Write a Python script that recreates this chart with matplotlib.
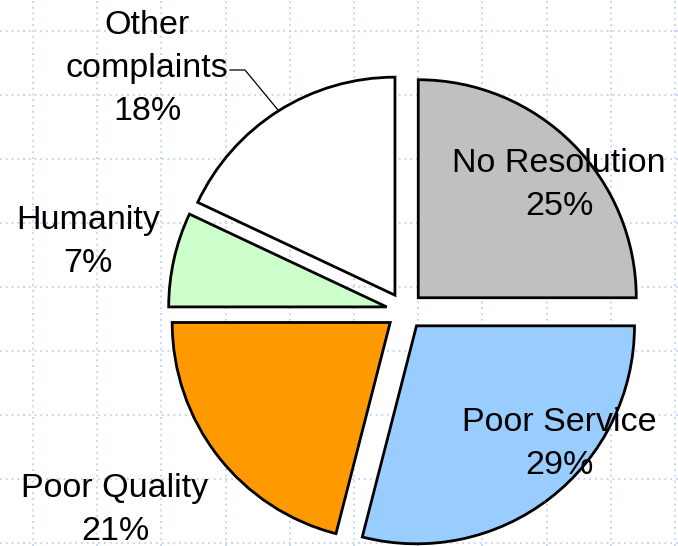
import matplotlib
matplotlib.use("Agg")
import matplotlib.pyplot as plt
import numpy as np

categories = ["No Resolution", "Poor Service", "Poor Quality", "Humanity", "Other\ncomplaints"]
values = [25, 29, 21, 7, 18]
colors = ["#C0C0C0", "#99CCFF", "#FF9900", "#CCFFCC", "#FFFFFF"]

W, H = 678, 546
fig = plt.figure(figsize=(W / 100, H / 100), dpi=100)
fig.patch.set_facecolor("white")

# background axes in pixel units, holds the dotted grid
bg = fig.add_axes([0, 0, 1, 1])
bg.set_xlim(0, W)
bg.set_ylim(H, 0)
bg.set_xticks(np.arange(33, W, 64.2))
bg.set_yticks(np.arange(31, H, 64.0))
bg.grid(True, linestyle=(0, (1, 2.2)), color="#bfd0f8", linewidth=1.3)
bg.tick_params(length=0, labelbottom=False, labelleft=False)
for s in bg.spines.values():
    s.set_visible(False)
bg.set_zorder(0)

# pie axes: 1 data unit = 218 px, pie center at pixel (405, 311)
R = 218.0
cx, cy = 405.0, 311.0
ax = fig.add_axes([0, 0, 1, 1])
ax.set_zorder(1)
ax.patch.set_alpha(0)
ax.pie(values, colors=colors, startangle=90, counterclock=False,
       explode=[0.086] * len(values), radius=1.0,
       wedgeprops=dict(edgecolor="black", linewidth=2.0))
ax.set_xlim(-cx / R, (W - cx) / R)
ax.set_ylim(-(H - cy) / R, cy / R)
ax.set_aspect("equal")
ax.axis("off")

# labels (pixel positions of label centers)
label_pos = [(559, 185), (559, 444), (115, 510), (88, 242), (147, 69)]
total = sum(values)
font = dict(family=["Liberation Sans", "DejaVu Sans"], size=24.5)
top = fig.add_axes([0, 0, 1, 1])
top.set_zorder(2)
top.patch.set_alpha(0)
top.set_xlim(0, W)
top.set_ylim(H, 0)
top.axis("off")
for cat, v, (px, py) in zip(categories, values, label_pos):
    pct = round(100 * v / total)
    top.text(px, py, f"{cat}\n{pct}%", ha="center", va="center",
             linespacing=1.5, **font)

# leader line for "Other complaints"
top.plot([230, 245, 278], [70, 70, 110], color="black", linewidth=0.9)

fig.savefig("out.png", dpi=100, facecolor="white")
